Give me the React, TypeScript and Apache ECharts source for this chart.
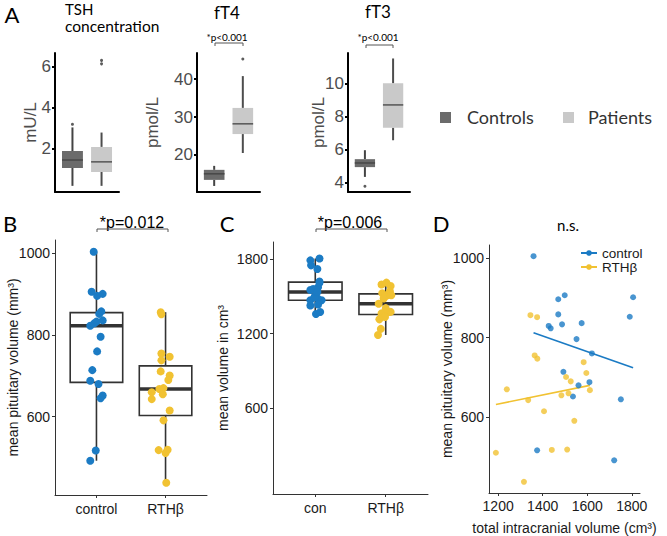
import React, { useEffect, useRef } from 'react';
import * as echarts from 'echarts';

// ---------- Panel A: box statistics [lower whisker, Q1, median, Q3, upper whisker]
const groupsA = ['Controls', 'Patients'];
const tshControls = [0.2, 1.07, 1.46, 1.9, 3.05];
const tshPatients = [0.2, 0.88, 1.37, 2.1, 2.8];
const tshOutControls = [3.2];
const tshOutPatients = [6.15, 6.32];
const ft4Controls = [11.8, 13.4, 15.0, 16.05, 17.1];
const ft4Patients = [20.5, 25.5, 28.2, 32.4, 40.8];
const ft4OutControls: number[] = [];
const ft4OutPatients = [45.3];
const ft3Controls = [4.36, 4.95, 5.2, 5.43, 5.97];
const ft3Patients = [6.57, 7.33, 8.7, 10.0, 11.5];
const ft3OutControls = [3.8];
const ft3OutPatients: number[] = [];
const tshTicks = [2, 4, 6];
const ft4Ticks = [20, 30, 40];
const ft3Ticks = [4, 6, 8, 10];

// ---------- Panels B–D: per-subject values
const groupsB = ['control', 'RTHβ'];
const groupsC = ['con', 'RTHβ'];
const pituitaryControl = [1004, 906, 896, 901, 858, 852, 833, 836, 829, 823, 796, 760, 714, 680, 688, 652, 645, 517, 492];
const ticvControl = [1359, 1499, 1470, 1806, 1470, 1791, 1487, 1575, 1427, 1436, 1552, 1621, 1493, 1561, 1610, 1536, 1751, 1375, 1721];
const pituitaryRTH = [856, 851, 755, 747, 738, 711, 701, 690, 670, 668, 660, 655, 643, 615, 591, 511, 518, 519, 438];
const ticvRTH = [1345, 1375, 1364, 1376, 1584, 1596, 1505, 1526, 1239, 1612, 1516, 1484, 1335, 1406, 1542, 1190, 1441, 1510, 1316];
// horizontal jitter offsets (category units) as seen in the plot
const jitterPitControl = [-0.04, -0.07, 0.01, 0.09, 0.07, 0.04, 0.0, 0.09, -0.03, -0.09, 0.06, 0.01, -0.06, 0.03, -0.09, 0.09, 0.06, -0.01, -0.09];
const jitterPitRTH = [-0.07, -0.06, -0.06, 0.06, -0.06, -0.07, 0.06, 0.04, -0.03, -0.09, -0.2, -0.04, -0.2, 0.06, -0.03, 0.0, -0.1, 0.03, 0.01];
const jitterTicvControl = [0.01, -0.01, 0.09, 0.06, -0.07, -0.07, 0.03, 0.04, -0.07, 0.04, -0.07, 0.06, -0.01, -0.03, 0.06, 0.03, -0.06, 0.07, 0.03];
const jitterTicvRTH = [-0.03, 0.04, -0.06, 0.07, 0.07, -0.06, 0.01, -0.05, -0.07, 0.01, 0.05, -0.03, -0.01, 0.0, 0.06, -0.11, -0.1, 0.08, -0.09];
const pitTicks = [600, 800, 1000];
const ticvTicks = [600, 1200, 1800];
const ticvXTicks = [1200, 1400, 1600, 1800];
const fitControl = [[1359, 812], [1806, 724]];
const fitRTH = [[1190, 632], [1612, 680]];

const BLUE = '#1b7bc4';
const YELLOW = '#f1c232';
const SANS = 'Liberation Sans';
const HUM = 'Lato';
const plain = (v: number) => String(v);

function quantile(s: number[], p: number) {
  const h = (s.length - 1) * p;
  const lo = Math.floor(h);
  const hi = Math.min(lo + 1, s.length - 1);
  return s[lo] + (h - lo) * (s[hi] - s[lo]);
}
function boxStats(vals: number[]) {
  const s = [...vals].sort((a, b) => a - b);
  const q1 = quantile(s, 0.25), med = quantile(s, 0.5), q3 = quantile(s, 0.75);
  const iqr = q3 - q1;
  const lo = s.find(v => v >= q1 - 1.5 * iqr) as number;
  const hi = [...s].reverse().find(v => v <= q3 + 1.5 * iqr) as number;
  return [lo, q1, med, q3, hi];
}

type BoxStyle = { halfW: number; fill: string; boxStroke: string; whisker: string; median: string; medianW: number; lineW: number };

function boxSeries(name: string, idx: number, pos: number, stats: number[], st: BoxStyle) {
  return {
    type: 'custom', name, xAxisIndex: idx, yAxisIndex: idx,
    data: [[pos, ...stats]],
    encode: { x: 0, y: [1, 2, 3, 4, 5] },
    itemStyle: { color: st.fill },
    z: 2,
    renderItem: (_p: any, api: any) => {
      const x = api.value(0);
      const lo = api.value(1), q1 = api.value(2), med = api.value(3), q3 = api.value(4), hi = api.value(5);
      const pLo = api.coord([x, lo]);
      const pHi = api.coord([x, hi]);
      const pQ1L = api.coord([x - st.halfW, q1]);
      const pQ3R = api.coord([x + st.halfW, q3]);
      const pML = api.coord([x - st.halfW, med]);
      const pMR = api.coord([x + st.halfW, med]);
      return {
        type: 'group',
        children: [
          { type: 'line', shape: { x1: pLo[0], y1: pLo[1], x2: pLo[0], y2: pQ1L[1] }, style: { stroke: st.whisker, lineWidth: st.lineW } },
          { type: 'line', shape: { x1: pHi[0], y1: pHi[1], x2: pHi[0], y2: pQ3R[1] }, style: { stroke: st.whisker, lineWidth: st.lineW } },
          { type: 'rect', shape: { x: pQ1L[0], y: pQ3R[1], width: pQ3R[0] - pQ1L[0], height: pQ1L[1] - pQ3R[1] }, style: { fill: st.fill, stroke: st.boxStroke, lineWidth: st.lineW } },
          { type: 'line', shape: { x1: pML[0], y1: pML[1], x2: pMR[0], y2: pMR[1] }, style: { stroke: st.median, lineWidth: st.medianW } },
        ],
      };
    },
  };
}

const ctrlA: BoxStyle = { halfW: 0.36, fill: '#6b6b6b', boxStroke: 'none', whisker: '#444', median: '#474747', medianW: 1.5, lineW: 2 };
const patA: BoxStyle = { halfW: 0.36, fill: '#c9c9c9', boxStroke: 'none', whisker: '#4d4d4d', median: '#555', medianW: 1.5, lineW: 2 };
const boxBC: BoxStyle = { halfW: 0.38, fill: '#ffffff', boxStroke: '#333', whisker: '#333', median: '#333', medianW: 3.5, lineW: 1.6 };

function outlierSeries(idx: number, pos: number, vals: number[]) {
  return {
    type: 'scatter', xAxisIndex: idx, yAxisIndex: idx, symbolSize: 3,
    itemStyle: { color: '#333' }, z: 3,
    data: vals.map(v => [pos, v]),
  };
}

function jitterSeries(name: string, idx: number, pos: number, vals: number[], jit: number[], color: string) {
  return {
    type: 'scatter', name, xAxisIndex: idx, yAxisIndex: idx, symbolSize: 8,
    itemStyle: { color, opacity: 1 }, z: 4,
    data: vals.map((v, i) => [pos + jit[i], v]),
  };
}

function aYAxis(idx: number, min: number, max: number, ticks: number[], name: string, gap: number) {
  return {
    type: 'value', gridIndex: idx, min, max,
    name, nameLocation: 'middle', nameGap: gap, nameRotate: 90, nameMoveOverlap: false,
    nameTextStyle: { fontSize: 17, color: '#4d4d4d', fontFamily: SANS },
    axisLine: { show: true, onZero: false, lineStyle: { color: '#000', width: 2 } },
    axisTick: { show: true, length: 3, customValues: ticks, lineStyle: { color: '#000', width: 2 } },
    axisLabel: { customValues: ticks, formatter: plain, fontSize: 17, color: '#4d4d4d', margin: 4, fontFamily: SANS },
    splitLine: { show: false },
  };
}
function aXAxis(idx: number) {
  return {
    type: 'value', gridIndex: idx, min: 0.4, max: 2.6,
    axisLine: { show: true, onZero: false, lineStyle: { color: '#000', width: 2 } },
    axisTick: { show: false }, axisLabel: { show: false }, splitLine: { show: false },
  };
}
const thinLine = { show: true, onZero: false, lineStyle: { color: '#333', width: 1 } };
function catXAxis(idx: number, labels: string[]) {
  return {
    type: 'value', gridIndex: idx, min: 0.4, max: 2.6,
    axisLine: thinLine,
    axisTick: { show: true, length: 3, customValues: [1, 2], lineStyle: { color: '#333' } },
    axisLabel: { customValues: [1, 2], formatter: (v: number) => labels[Math.round(v) - 1] ?? '', fontSize: 14, color: '#1a1a1a', margin: 7, fontFamily: SANS },
    splitLine: { show: false },
  };
}
function valYAxis(idx: number, min: number, max: number, ticks: number[], name: string, gap: number) {
  return {
    type: 'value', gridIndex: idx, min, max,
    name, nameLocation: 'middle', nameGap: gap, nameRotate: 90, nameMoveOverlap: false,
    nameTextStyle: { fontSize: 14, color: '#1a1a1a', fontFamily: SANS },
    axisLine: thinLine,
    axisTick: { show: true, length: 3, customValues: ticks, lineStyle: { color: '#333' } },
    axisLabel: { customValues: ticks, formatter: plain, fontSize: 14, color: '#1a1a1a', margin: 5, fontFamily: SANS },
    splitLine: { show: false },
  };
}

function txt(text: string, x: number, y: number, fontSize: number, opts: any = {}) {
  return {
    type: 'text', x, y, silent: true,
    style: { text, fontSize, fontFamily: opts.font ?? HUM, fill: opts.fill ?? '#000', align: opts.align ?? 'center', verticalAlign: 'middle', fontWeight: opts.weight ?? 'normal' },
  };
}
function bracket(x1: number, x2: number, y: number, color: string, lw: number) {
  return { type: 'polyline', silent: true, shape: { points: [[x1, y + 3], [x1, y], [x2, y], [x2, y + 3]] }, style: { stroke: color, lineWidth: lw, fill: 'none' } };
}

export default function App() {
  const ref = useRef<HTMLDivElement>(null);
  useEffect(() => {
    document.body.style.margin = '0';
    const chart = echarts.init(ref.current!, undefined, { renderer: 'svg' });
    const gridBase = { containLabel: false, outerBoundsMode: 'none' };
    const option: any = {
      animation: false,
      backgroundColor: '#fff',
      grid: [
        { ...gridBase, left: 55, top: 53, width: 64, height: 139 },
        { ...gridBase, left: 197, top: 53, width: 63, height: 139 },
        { ...gridBase, left: 348, top: 53, width: 62, height: 139 },
        { ...gridBase, left: 55, top: 240, width: 152, height: 255 },
        { ...gridBase, left: 273, top: 242, width: 155, height: 252 },
        { ...gridBase, left: 489, top: 245, width: 151, height: 248 },
      ],
      xAxis: [
        aXAxis(0), aXAxis(1), aXAxis(2),
        catXAxis(3, groupsB), catXAxis(4, groupsC),
        {
          type: 'value', gridIndex: 5, min: 1159, max: 1837,
          name: 'total intracranial volume (cm³)', nameLocation: 'middle', nameGap: 28, nameMoveOverlap: false,
          nameTextStyle: { fontSize: 14, color: '#1a1a1a', fontFamily: SANS },
          axisLine: thinLine,
          axisTick: { show: true, length: 3, customValues: ticvXTicks, lineStyle: { color: '#333' } },
          axisLabel: { customValues: ticvXTicks, formatter: plain, fontSize: 14, color: '#1a1a1a', margin: 6, fontFamily: SANS },
          splitLine: { show: false },
        },
      ],
      yAxis: [
        aYAxis(0, -0.1, 6.68, tshTicks, 'mU/L', 16),
        aYAxis(1, 10.2, 46.9, ft4Ticks, 'pmol/L', 36),
        aYAxis(2, 3.45, 11.83, ft3Ticks, 'pmol/L', 21),
        valYAxis(3, 408, 1033, pitTicks, 'mean pituitary volume (mm³)', 35),
        valYAxis(4, -91, 1939, ticvTicks, 'mean volume in cm³', 43),
        valYAxis(5, 410, 1032, pitTicks, 'mean pituitary volume (mm³)', 35),
      ],
      legend: [
        {
          left: 580, top: 246, padding: 0, orient: 'vertical', itemGap: 0, itemWidth: 16, itemHeight: 7,
          data: ['control', 'RTHβ'],
          textStyle: { fontSize: 13.5, color: '#1a1a1a', fontFamily: SANS, lineHeight: 13 },
        },
      ],
      series: [
        boxSeries(groupsA[0], 0, 1, tshControls, ctrlA),
        boxSeries(groupsA[1], 0, 2, tshPatients, patA),
        outlierSeries(0, 1, tshOutControls), outlierSeries(0, 2, tshOutPatients),
        boxSeries(groupsA[0], 1, 1, ft4Controls, ctrlA),
        boxSeries(groupsA[1], 1, 2, ft4Patients, patA),
        outlierSeries(1, 1, ft4OutControls), outlierSeries(1, 2, ft4OutPatients),
        boxSeries(groupsA[0], 2, 1, ft3Controls, ctrlA),
        boxSeries(groupsA[1], 2, 2, ft3Patients, patA),
        outlierSeries(2, 1, ft3OutControls), outlierSeries(2, 2, ft3OutPatients),
        // D fitted lines (first, so legend takes its line icon)
        {
          type: 'line', name: 'control', xAxisIndex: 5, yAxisIndex: 5, data: fitControl,
          symbol: 'circle', symbolSize: 5, showSymbol: false, lineStyle: { color: BLUE, width: 1.6 }, itemStyle: { color: BLUE }, z: 3,
        },
        {
          type: 'line', name: 'RTHβ', xAxisIndex: 5, yAxisIndex: 5, data: fitRTH,
          symbol: 'circle', symbolSize: 5, showSymbol: false, lineStyle: { color: YELLOW, width: 1.6 }, itemStyle: { color: YELLOW }, z: 3,
        },
        // B
        boxSeries('B box control', 3, 1, boxStats(pituitaryControl), boxBC),
        boxSeries('B box RTH', 3, 2, boxStats(pituitaryRTH), boxBC),
        jitterSeries('B control pts', 3, 1, pituitaryControl, jitterPitControl, BLUE),
        jitterSeries('B RTH pts', 3, 2, pituitaryRTH, jitterPitRTH, YELLOW),
        // C
        boxSeries('C box control', 4, 1, boxStats(ticvControl), boxBC),
        boxSeries('C box RTH', 4, 2, boxStats(ticvRTH), boxBC),
        jitterSeries('C control pts', 4, 1, ticvControl, jitterTicvControl, BLUE),
        jitterSeries('C RTH pts', 4, 2, ticvRTH, jitterTicvRTH, YELLOW),
        // D
        {
          type: 'scatter', name: 'D control pts', xAxisIndex: 5, yAxisIndex: 5, symbolSize: 6,
          itemStyle: { color: BLUE }, z: 4, data: ticvControl.map((v, i) => [v, pituitaryControl[i]]),
        },
        {
          type: 'scatter', name: 'D RTH pts', xAxisIndex: 5, yAxisIndex: 5, symbolSize: 6,
          itemStyle: { color: YELLOW }, z: 4, data: ticvRTH.map((v, i) => [v, pituitaryRTH[i]]),
        },
      ],
      graphic: [
        txt('A', 12, 14, 22),
        txt('TSH', 65, 9, 15, { align: 'left' }),
        txt('concentration', 65, 26, 15.5, { align: 'left' }),
        txt('fT4', 227, 12, 17),
        txt('fT3', 378, 11, 17),
        txt('*p<0.001', 227, 37, 10),
        bracket(215, 243, 43, '#555', 1),
        txt('*p<0.001', 378, 37, 10),
        bracket(366, 393, 45, '#555', 1),
        { type: 'rect', silent: true, shape: { x: 440, y: 112, width: 11, height: 11 }, style: { fill: '#6b6b6b' } },
        txt(groupsA[0], 467, 117, 18, { align: 'left', fill: '#333' }),
        { type: 'rect', silent: true, shape: { x: 563, y: 112, width: 11, height: 11 }, style: { fill: '#c9c9c9' } },
        txt(groupsA[1], 588, 117, 18, { align: 'left', fill: '#333' }),
        txt('B', 10, 223, 22),
        txt('*p=0.012', 132, 222, 16, { font: SANS }),
        bracket(97, 168, 229, '#555', 1),
        txt('C', 227, 223, 22),
        txt('*p=0.006', 350, 222, 16, { font: SANS }),
        bracket(316, 387, 229, '#555', 1),
        txt('D', 441, 223, 22),
        txt('n.s.', 568, 225, 15),
      ],
    };
    chart.setOption(option);
    return () => chart.dispose();
  }, []);
  return <div ref={ref} style={{ width: 667, height: 536 }} />;
}
